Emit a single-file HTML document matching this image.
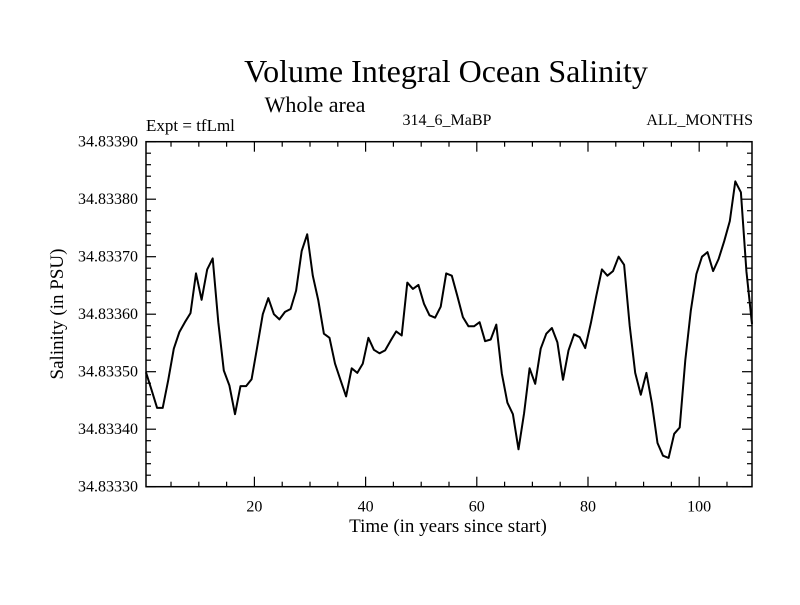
<!DOCTYPE html>
<html><head><meta charset="utf-8"><style>
html,body{margin:0;padding:0;background:#fff;}
svg text{font-family:"Liberation Serif",serif;fill:#000;}
</style></head><body>
<svg id="chart" width="800" height="600" viewBox="0 0 800 600" xmlns="http://www.w3.org/2000/svg">
<text x="446" y="82" font-size="32" text-anchor="middle">Volume Integral Ocean Salinity</text>
<text x="315" y="112" font-size="22" text-anchor="middle">Whole area</text>
<text x="146" y="131" font-size="17">Expt = tfLml</text>
<text x="447" y="125" font-size="16" text-anchor="middle">314_6_MaBP</text>
<text x="753" y="125" font-size="16" text-anchor="end">ALL_MONTHS</text>
<text x="448" y="532" font-size="19" text-anchor="middle">Time (in years since start)</text>
<text x="0" y="0" font-size="19" text-anchor="middle" transform="translate(63,314) rotate(-90)">Salinity (in PSU)</text>
<g id="axes"></g>
<path id="series" fill="none" stroke="#000" stroke-width="2" stroke-linejoin="round"/>
</svg>
<script>
const years = [];
for (let i = 0; i < 110; i++) years.push(i + 0.5);
// salinity anomaly above 34.8333, in units of 1e-5 PSU
const salinityAnom = [19.9,16.8,13.7,13.7,18.5,24.0,26.9,28.6,30.2,37.1,32.5,37.8,39.7,28.6,20.2,17.6,12.6,17.5,17.5,18.7,24.3,30.0,32.8,30.0,29.1,30.4,30.9,34.1,41.0,43.9,36.7,32.4,26.6,25.9,21.4,18.5,15.7,
20.6,19.8,21.4,25.9,23.8,23.2,23.7,25.4,27.0,26.3,35.5,34.4,35.1,31.8,29.8,29.4,31.3,37.1,36.7,33.2,29.5,27.9,27.9,28.6,25.3,25.6,28.2,19.7,14.6,12.6,6.5,12.8,20.6,17.9,24.0,26.6,27.6,
25.1,18.6,23.7,26.5,26.0,24.1,28.4,33.2,37.8,36.7,37.5,40.0,38.6,28.0,19.8,16.0,19.8,14.5,7.6,5.4,5.0,9.2,10.3,22.0,30.6,37.0,40.0,40.8,37.5,39.6,42.7,46.2,53.1,51.2,37.5,28.3];
const xTicks = [20,40,60,80,100];
const yTicks = ["34.83330","34.83340","34.83350","34.83360","34.83370","34.83380","34.83390"];

const L=146,R=752,T=141.7,B=486.7, X0=0.5, X1=109.5, Y0=34.8333, Y1=34.8339;
const xs = v => L + (v - X0) / (X1 - X0) * (R - L);
const ys = v => B - (v - Y0) / (Y1 - Y0) * (B - T);
const NS="http://www.w3.org/2000/svg";
const ax=document.getElementById('axes');
function line(x1,y1,x2,y2,name){
  const l=document.createElementNS(NS,'line');
  l.setAttribute('x1',x1);l.setAttribute('y1',y1);l.setAttribute('x2',x2);l.setAttribute('y2',y2);
  l.setAttribute('stroke','#000');l.setAttribute('stroke-width','1.2');
  
  
  ax.appendChild(l);
}
const frame=document.createElementNS(NS,'rect');
frame.setAttribute('x',L);frame.setAttribute('y',T);frame.setAttribute('width',R-L);frame.setAttribute('height',B-T);
frame.setAttribute('fill','none');frame.setAttribute('stroke','#000');frame.setAttribute('stroke-width','1.5');


ax.appendChild(frame);
for(let v=5; v<=105; v+=5){
  const major = xTicks.includes(v);
  const len = major?10:5, x=xs(v);
  line(x,B,x,B-len,'x-tick');
  line(x,T,x,T+len,'x-tick-top');
}
xTicks.forEach(v=>{
  const t=document.createElementNS(NS,'text');
  t.setAttribute('x',xs(v));t.setAttribute('y',B+25);t.setAttribute('font-size','16');t.setAttribute('text-anchor','middle');
  t.textContent=v;
  
  
  ax.appendChild(t);
});
for(let k=0;k<=30;k++){
  const v=Y0+k*0.00002; const major=(k%5===0); const len=major?10:5; const y=ys(v);
  line(L,y,L+len,y,'y-tick');
  line(R,y,R-len,y,'y-tick-right');
}
yTicks.forEach(s=>{
  const t=document.createElementNS(NS,'text');
  t.setAttribute('x',138);t.setAttribute('y',ys(parseFloat(s))+5);t.setAttribute('font-size','16');t.setAttribute('text-anchor','end');
  t.textContent=s;
  
  
  ax.appendChild(t);
});
let d='';
salinityAnom.forEach((a,i)=>{ d+=(i?'L':'M')+xs(years[i]).toFixed(1)+','+ys(Y0+a*1e-5).toFixed(1); });
document.getElementById('series').setAttribute('d',d);
</script>
</body></html>
